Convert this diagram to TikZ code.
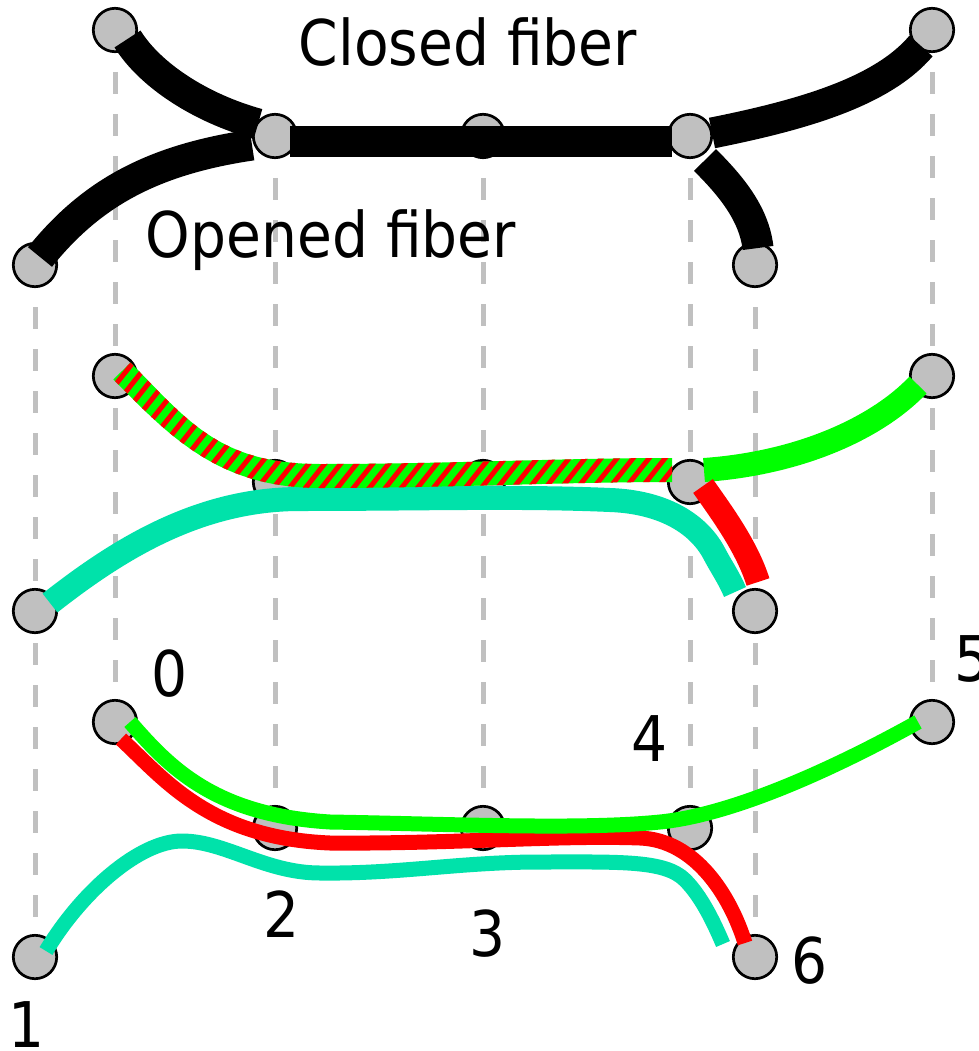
\documentclass[tikz,border=0pt]{standalone}
\usepackage{fontspec}
\setmainfont{DejaVu Sans}[FakeStretch=0.9]
\definecolor{silver}{HTML}{C0C0C0}
\definecolor{fibgreen}{HTML}{00FF00}
\definecolor{fibred}{HTML}{FF0000}
\definecolor{fibcyan}{HTML}{00E2AA}
\tikzset{
  splice/.style={circle, draw=black, line width=2.7pt, fill=silver,
                 minimum size=43.4pt, inner sep=0pt},
  guide/.style={draw=silver, line width=5pt, dash pattern=on 22pt off 20pt},
  closedfib/.style={draw=black, line width=31pt},
  fib/.style={line width=24pt},
  thinfib/.style={line width=15pt},
  lbl/.style={font=\fontsize{63pt}{70pt}\selectfont, anchor=base, inner sep=0pt},
}
\begin{document}
\begin{tikzpicture}[x=1pt,y=-1pt]
\fill[white] (0,0) rectangle (978,1051);
\useasboundingbox (0,0) rectangle (978,1051);

% splice positions, three rows
\coordinate (tA) at (115,30);  \coordinate (tB) at (35,265);
\coordinate (tC) at (275,136); \coordinate (tD) at (483,136);
\coordinate (tE) at (690,136); \coordinate (tF) at (932,30);
\coordinate (tG) at (755,265);
\coordinate (mA) at (115,376); \coordinate (mB) at (35,611);
\coordinate (mC) at (275,482); \coordinate (mD) at (483,482);
\coordinate (mE) at (690,482); \coordinate (mF) at (932,376);
\coordinate (mG) at (755,611);
\coordinate (p0) at (115,722); \coordinate (p1) at (35,957);
\coordinate (p2) at (275,828); \coordinate (p3) at (483,828);
\coordinate (p4) at (690,828); \coordinate (p5) at (932,722);
\coordinate (p6) at (755,957);

% vertical guides
\draw[guide] (tB) -- (p1);
\draw[guide] (tA) -- (p0);
\draw[guide] (tC) -- (p2);
\draw[guide] (tD) -- (p3);
\draw[guide] (tE) -- (p4);
\draw[guide] (tG) -- (p6);
\draw[guide] (tF) -- (p5);

% splice points
\foreach \n in {tA,tB,tC,tD,tE,tF,tG,mA,mB,mC,mD,mE,mF,mG,p0,p1,p2,p3,p4,p5,p6}
  \node[splice] (s\n) at (\n) {};

% closed / opened fiber
\draw[closedfib] (127.5,39) .. controls (150,75) and (200,108) .. (258,124);
\draw[closedfib] (40,257) .. controls (90,195) and (150,160) .. (252,145);
\draw[closedfib] (290,142) -- (672,142);
\draw[closedfib] (712,133) .. controls (802,115) and (882,92) .. (921,46);
\draw[closedfib] (705,160) .. controls (730,185) and (754,213) .. (758,248);
\node[lbl] (closed) at (468,66) {Closed fiber};
\node[lbl] (opened) at (331,257) {Opened fiber};

% middle row
\draw[fib, fibcyan] (50,603) .. controls (120,548) and (200,499) .. (300,499)
  .. controls (420,499) and (520,496) .. (610,500)
  .. controls (665,502) and (700,525) .. (715,555)
  .. controls (722,568) and (729,578) .. (735,592);
\begin{scope}
  \clip (130.6,362.6) .. controls (188.6,421.6) and (220,464) .. (320,464)
    .. controls (450,464) and (560,458) .. (672,458) -- (672,482)
    .. controls (560,482) and (450,488) .. (320,488)
    .. controls (220,488) and (171.4,438.4) .. (113.4,379.4) -- cycle;
  \fill[fibgreen] (100,340) rectangle (690,500);
  \foreach \k in {-4,...,44}
    \draw[fibred, line width=5pt] (16*\k,530) -- ++(151,-190);
\end{scope}
\draw[fib, fibgreen] (704,470) .. controls (802,463) and (878,427) .. (918,385);
\draw[fib, fibred] (703,486) .. controls (722,513) and (747,547) .. (758,582);

% bottom row
\draw[thinfib, fibcyan] (46,951) .. controls (82,891) and (140,841) .. (182,841)
  .. controls (225,841) and (265,873) .. (320,873)
  .. controls (400,874) and (460,862) .. (540,862)
  .. controls (620,862) and (665,860) .. (685,880)
  .. controls (700,895) and (712,918) .. (723,944);
\draw[thinfib, fibred] (121,739) .. controls (165,780) and (210,838) .. (330,843)
  .. controls (450,844) and (560,835) .. (640,838)
  .. controls (695,840) and (730,895) .. (745,943);
\draw[thinfib, fibgreen] (130,722) .. controls (170,768) and (215,815) .. (330,822)
  .. controls (450,824) and (580,830) .. (660,822)
  .. controls (740,814) and (850,760) .. (918,722);

% port numbers
\node[lbl] (l0) at (170,696) {0};
\node[lbl] (l1) at (27,1047) {1};
\node[lbl] (l2) at (282,937) {2};
\node[lbl] (l3) at (488,956) {3};
\node[lbl] (l4) at (650,761) {4};
\node[lbl] (l5) at (973,681) {5};
\node[lbl] (l6) at (810,983) {6};
\end{tikzpicture}
\end{document}
